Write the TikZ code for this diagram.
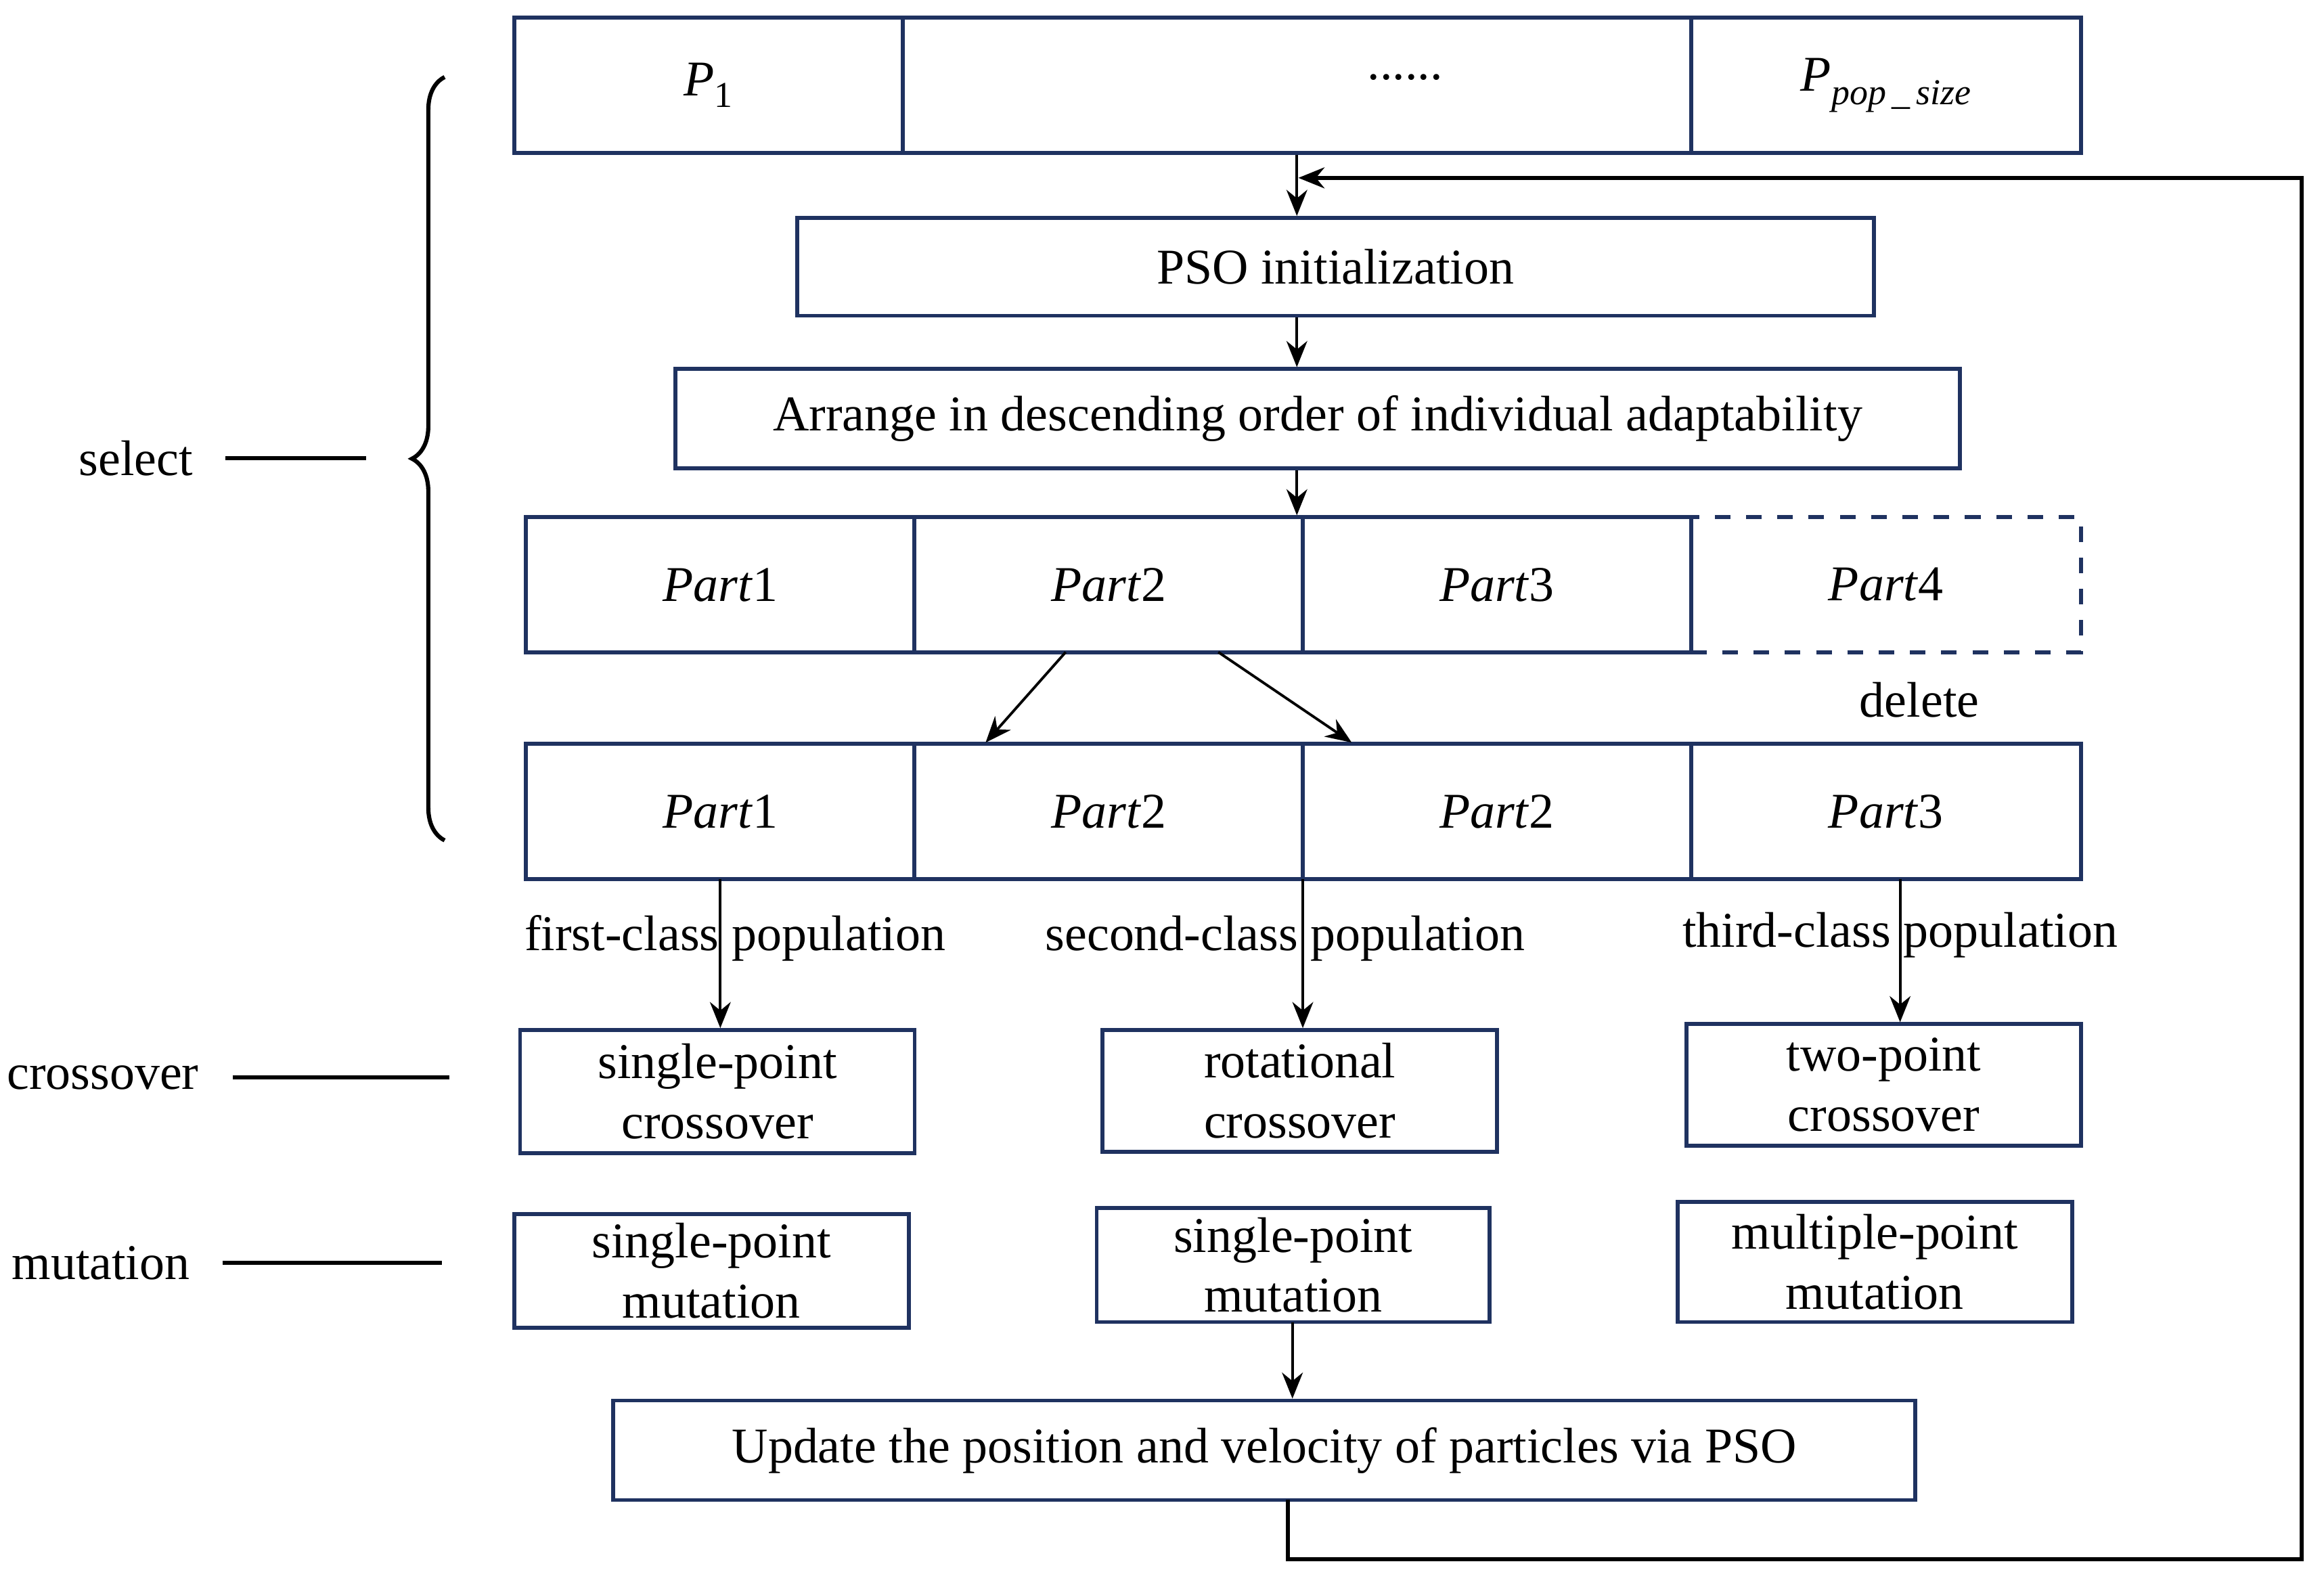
\documentclass[tikz,border=0pt]{standalone}
\usepackage{fontspec}
\setmainfont{Liberation Serif}
\usetikzlibrary{arrows.meta,decorations.pathreplacing}
\definecolor{nav}{RGB}{31,50,96}
\begin{document}
\fontsize{9.6}{11.5}\selectfont
\begin{tikzpicture}[x=0.01cm,y=-0.01cm,
  box/.style={draw=nav,line width=0.75pt,inner sep=0pt,align=center},
  arr/.style={-{Stealth[length=5pt,width=4pt]},line width=0.5pt},
  ln/.style={line width=0.8pt}]
\useasboundingbox (0,0) rectangle (1568,1072);
% top row
\node[box,minimum width=2.62cm,minimum height=0.91cm] (t1) at (478,57.5) {\textit{P}\raisebox{-0.5ex}{\scriptsize 1}};
\node[box,minimum width=5.32cm,minimum height=0.91cm] (t2) at (875,57.5) {};
\node at (948,52) {......};
\node[box,minimum width=2.63cm,minimum height=0.91cm] (t3) at (1272.5,57.5) {\textit{P}\raisebox{-0.6ex}{\scriptsize\textit{pop\,\_\,size}}};
\node[box,minimum width=7.26cm,minimum height=0.66cm] (pso) at (901,180) {PSO initialization};
\node[box,minimum width=8.66cm,minimum height=0.67cm] (arr) at (889,282.5) {Arrange in descending order of individual adaptability};
% parts row 1
\node[box,minimum width=2.62cm,minimum height=0.91cm] (a1) at (486,394.5) {\textit{Part}1};
\node[box,minimum width=2.62cm,minimum height=0.91cm] (a2) at (748,394.5) {\textit{Part}2};
\node[box,minimum width=2.62cm,minimum height=0.91cm] (a3) at (1010,394.5) {\textit{Part}3};
\node[box,dashed,minimum width=2.63cm,minimum height=0.91cm] (a4) at (1272.5,394.5) {\textit{Part}4};
\node (del) at (1295,472) {delete};
% parts row 2
\node[box,minimum width=2.62cm,minimum height=0.91cm] (b1) at (486,547.5) {\textit{Part}1};
\node[box,minimum width=2.62cm,minimum height=0.91cm] (b2) at (748,547.5) {\textit{Part}2};
\node[box,minimum width=2.62cm,minimum height=0.91cm] (b3) at (1010,547.5) {\textit{Part}2};
\node[box,minimum width=2.63cm,minimum height=0.91cm] (b4) at (1272.5,547.5) {\textit{Part}3};
% population labels
\node (l1) at (496,633) {first-class population};
\node (l2) at (867,633) {second-class population};
\node (l3) at (1282,631) {third-class population};
% crossover
\node[box,minimum width=2.66cm,minimum height=0.83cm] (c1) at (484,736.5) {single-point\\crossover};
\node[box,minimum width=2.66cm,minimum height=0.82cm] (c2) at (877,736) {rotational\\crossover};
\node[box,minimum width=2.66cm,minimum height=0.82cm] (c3) at (1271,732) {two-point\\crossover};
% mutation
\node[box,minimum width=2.66cm,minimum height=0.77cm] (m1) at (480,857.5) {single-point\\mutation};
\node[box,minimum width=2.65cm,minimum height=0.77cm] (m2) at (872.5,853.5) {single-point\\mutation};
\node[box,minimum width=2.66cm,minimum height=0.81cm] (m3) at (1265,851.5) {multiple-point\\mutation};
\node[box,minimum width=8.78cm,minimum height=0.67cm] (upd) at (853,978.5) {Update the position and velocity of particles via PSO};
% left labels
\node[anchor=east] (sel) at (142,309) {select};
\node[anchor=east] (cro) at (146,727) {crossover};
\node[anchor=east] (mut) at (140,852) {mutation};
\coordinate (sel1) at (152,309); \coordinate (sel2) at (247,309);
\coordinate (cro1) at (157,727); \coordinate (cro2) at (303,727);
\coordinate (mut1) at (150,852); \coordinate (mut2) at (298,852);
\draw[ln] (sel1) -- (sel2);
\draw[ln] (cro1) -- (cro2);
\draw[ln] (mut1) -- (mut2);
\coordinate (br1) at (300,567); \coordinate (br2) at (300,52);
\draw[ln,decorate,decoration={brace,amplitude=0.22cm}] (br1) -- (br2);
% arrows
\draw[arr] (t2.south) -- (t2.south |- pso.north);
\draw[arr] (pso.south -| t2.south) -- (t2.south |- arr.north);
\draw[arr] (arr.south -| t2.south) -- (t2.south |- a1.north);
\coordinate (d1) at (719,440); \coordinate (e1) at (665,501);
\coordinate (d2) at (822,440); \coordinate (e2) at (912,501);
\draw[arr] (d1) -- (e1);
\draw[arr] (d2) -- (e2);
\coordinate (p1) at (486,593); \coordinate (p2) at (879,593); \coordinate (p3) at (1282,593);
\draw[arr] (p1) -- (p1 |- c1.north);
\draw[arr] (p2) -- (p2 |- c2.north);
\draw[arr] (p3) -- (p3 |- c3.north);
\coordinate (q) at (872,892);
\draw[arr] (q) -- (q |- upd.north);
\coordinate (f0) at (869,1012); \coordinate (f1) at (869,1052); \coordinate (f2) at (1553,1052);
\coordinate (f3) at (1553,120); \coordinate (f4) at (876,120);
\draw[line width=0.8pt,-{Stealth[length=5pt,width=4pt]}] (f0) -- (f1) -- (f2) -- (f3) -- (f4);
\end{tikzpicture}
\end{document}
